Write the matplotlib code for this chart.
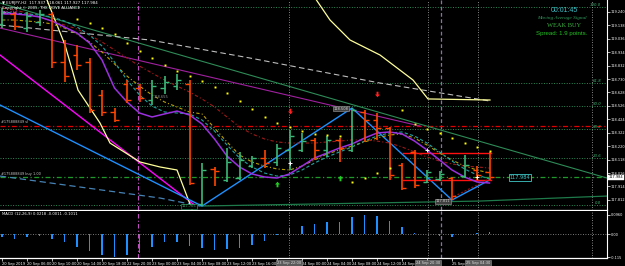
import numpy as np
import matplotlib
matplotlib.use("Agg")
import matplotlib.pyplot as plt
import matplotlib.transforms as mtransforms

# ---------------- data (EURJPY, 2-hour bars) ----------------
bar_open = [119.149, 119.225, 119.118, 119.164, 119.225, 118.860, 118.913, 118.860, 118.609, 118.480,
            118.693, 118.662, 118.571, 118.662, 118.677, 118.693, 117.780, 118.046, 117.963, 117.978,
            118.069, 118.130, 118.100, 118.191, 118.191, 118.267, 118.191, 118.267, 118.191, 118.480,
            118.419, 118.358, 118.077, 118.176, 117.948, 117.971, 117.978, 117.993, 118.039, 118.024]
bar_high = [119.270, 119.240, 119.240, 119.255, 119.240, 119.027, 118.989, 118.890, 118.647, 118.510,
            118.723, 118.693, 118.723, 118.753, 118.769, 118.723, 118.092, 118.062, 118.206, 118.176,
            118.145, 118.191, 118.237, 118.343, 118.320, 118.282, 118.297, 118.282, 118.510, 118.495,
            118.472, 118.366, 118.092, 118.191, 118.039, 118.031, 117.986, 118.153, 118.069, 118.176]
bar_low = [119.118, 119.103, 119.088, 119.133, 118.814, 118.708, 118.799, 118.472, 118.449, 118.404,
           118.548, 118.556, 118.533, 118.617, 118.647, 117.925, 117.765, 117.917, 117.948, 117.963,
           118.054, 118.054, 118.069, 118.039, 118.176, 118.115, 118.138, 118.100, 118.176, 118.252,
           118.267, 117.963, 117.887, 117.902, 117.940, 117.955, 117.811, 117.978, 117.963, 117.963]
bar_close = [119.240, 119.133, 119.209, 119.225, 118.860, 118.753, 118.837, 118.495, 118.480, 118.419,
             118.571, 118.586, 118.677, 118.708, 118.723, 117.940, 118.039, 118.028, 118.100, 118.115,
             118.130, 118.092, 118.206, 118.297, 118.259, 118.191, 118.267, 118.206, 118.495, 118.419,
             118.358, 118.001, 117.902, 117.925, 118.024, 118.009, 117.841, 118.077, 118.001, 117.984]

nan = float("nan")
psar = [nan, nan, nan, nan, nan, nan, 119.187, 119.156, 119.118, 119.073,
        119.004, 118.943, 118.890, 118.837, 118.791, 118.753, 118.715, 118.670, 118.624, 118.563,
        118.503, 118.442, 118.396, 118.366, 118.335, 118.313, 118.305, 118.297, 117.948, 117.978,
        118.016, 118.054, 118.495, 118.389, 118.351, 118.320, 118.282, 118.244, 118.214, 118.183]

ma_purple = [119.225, 119.225, 119.217, 119.202, 119.171, 119.126, 119.080, 119.004, 118.875, 118.662,
             118.556, 118.472, 118.442, 118.465, 118.487, 118.457, 118.389, 118.275, 118.145, 118.062,
             118.009, 117.986, 117.978, 118.009, 118.069, 118.130, 118.168, 118.206, 118.237, 118.282,
             118.320, 118.328, 118.313, 118.259, 118.191, 118.115, 118.039, 117.986, 117.948, 117.940]
ma_teal = [119.240, 119.232, 119.225, 119.217, 119.202, 119.171, 119.126, 119.065, 118.981, 118.860,
           118.723, 118.609, 118.525, 118.480, 118.472, 118.465, 118.419, 118.335, 118.229, 118.130,
           118.062, 118.016, 117.993, 118.001, 118.039, 118.092, 118.138, 118.176, 118.214, 118.259,
           118.297, 118.320, 118.328, 118.297, 118.244, 118.176, 118.107, 118.047, 118.001, 117.971]
ma_olive = [119.179, 119.179, 119.171, 119.164, 119.149, 119.118, 119.073, 119.012, 118.936, 118.845,
            118.753, 118.677, 118.609, 118.556, 118.518, 118.480, 118.465, 118.358, 118.252, 118.153,
            118.100, 118.069, 118.047, 118.039, 118.069, 118.115, 118.161, 118.191, 118.221, 118.252,
            118.282, 118.305, 118.313, 118.282, 118.229, 118.168, 118.115, 118.069, 118.039, 118.016]
ma_darkred = [119.270, 119.255, 119.232, 119.202, 119.171, 119.141, 119.111, 119.065, 119.012, 118.951,
              118.890, 118.829, 118.776, 118.723, 118.677, 118.632, 118.579, 118.518, 118.442, 118.366,
              118.313, 118.275, 118.252, 118.244, 118.244, 118.244, 118.252, 118.259, 118.267, 118.267,
              118.259, 118.244, 118.214, 118.176, 118.138, 118.107, 118.085, 118.069, 118.062, 118.054]

macd_hist = [-0.016, -0.025, -0.016, -0.011, -0.025, -0.036, -0.062, -0.085, -0.103, -0.114,
             -0.103, -0.095, -0.065, -0.038, -0.040, -0.057, -0.069, -0.078, -0.074, -0.069,
             -0.054, -0.034, -0.005, 0.029, 0.042, 0.051, 0.059, 0.061, 0.083, 0.093,
             0.088, 0.064, 0.034, 0.007, 0.002, -0.007, -0.012, 0.001, 0.007, 0.012]

price_ticks = [119.240, 119.138, 119.036, 118.934, 118.832, 118.730, 118.628, 118.526,
               118.424, 118.322, 118.220, 118.118, 118.016, 117.914, 117.812]
price_tick_labels = ["119.240", "119.138", "119.036", "118.934", "118.832", "118.730", "118.628",
                     "118.526", "118.424", "118.322", "118.220", "118.118", "118.016", "117.914",
                     "117.812"]
macd_ticks = [0.096, 0.0, -0.115]
macd_tick_labels = ["0.0960", "0.00", "-0.115"]

# labels hidden under the vertical-line time boxes are left blank
time_labels = ["20 Sep 2019", "20 Sep 06:00", "20 Sep 10:00", "20 Sep 14:00", "20 Sep 18:00",
               "22 Sep 20:00", "23 Sep 00:00", "23 Sep 04:00", "23 Sep 08:00", "23 Sep 12:00",
               "23 Sep 16:00", "", "24 Sep 00:00", "24 Sep 04:00", "24 Sep 08:00",
               "24 Sep 12:00", "24 Sep 16:00", "", "25 Sep 00:00"]
box_time_pos = [22.96, 34.08, 38.08]
box_time_labels = ["23 Sep 22:00", "24 Sep 20:30", "25 Sep 04:30"]

fib_levels = [119.278, 118.700, 118.525, 118.351, 118.130, 117.773]
fib_labels = ["100.0", "61.8", "50.0", "38.2", "23.6", "0.0"]
sl_level = 118.373
buy_level = 117.984

# trend objects: (bar index list, price list)
tl_green = ([-0.16, 48.4], [119.308, 117.978])
tl_violet = ([-0.16, 33.44], [119.118, 118.373])
tl_grey = ([-0.16, 11.84, 19.84, 30.24, 39.04], [119.141, 119.027, 118.890, 118.700, 118.563])
zigzag = ([-0.16, 16.0, 28.0, 36.0, 39.0], [118.533, 117.765, 118.510, 117.811, 117.963])
tl_magenta = ([-0.16, 15.6], [118.913, 117.758])
yellow_a = ([3.44, 5.04, 6.08, 7.84, 8.64, 11.04, 12.64, 14.0, 15.28],
            [119.369, 118.989, 118.647, 118.396, 118.244, 118.100, 118.062, 118.039, 117.720])
yellow_b = ([24.88, 26.24, 27.84, 30.24, 32.88, 34.08, 39.04],
            [119.369, 119.179, 119.027, 118.913, 118.723, 118.579, 118.571])
tl_steel = ([-0.16, 12.64, 15.84], [117.993, 117.826, 117.765])
tl_bottom = ([15.84, 38.24, 48.4], [117.765, 117.803, 117.841])
red_box_top = ([32.08, 39.12], [118.168, 118.168])
red_box_bot = ([32.08, 39.12], [117.963, 117.963])
red_diag = ([35.6, 39.12], [117.811, 117.978])

vlines_dotted = [22.96, 34.08, 38.08, 47.2]
vline_magenta = 10.88
vline_purple = 35.12

up_arrows = ([22, 27], [117.933, 117.978])
down_arrows = ([23, 30], [118.487, 118.617])
crosses = ([23, 34, 38], [118.092, 118.191, 117.986])

# ---------------- figure ----------------
W, H = 625, 266
fig = plt.figure(figsize=(W / 100, H / 100), dpi=100, facecolor="black")
plt.rcParams["font.family"] = ["DejaVu Sans"]

ax = fig.add_axes([0, 1 - 210 / H, 607 / W, 210 / H])
axm = fig.add_axes([0, 1 - 258 / H, 607 / W, 47 / H])
for a in (ax, axm):
    a.set_facecolor("black")
    a.set_xlim(-0.16, 48.4)
    for s in ("top", "left"):
        a.spines[s].set_visible(False)
    a.spines["right"].set_color("white")
    a.spines["right"].set_linewidth(0.8)
    a.spines["bottom"].set_color("white")
    a.spines["bottom"].set_linewidth(0.9)
ax.set_ylim(117.735, 119.331)
axm.set_ylim(-0.1176, 0.1150)

idx = np.arange(len(bar_open))
o = np.array(bar_open); h = np.array(bar_high); l = np.array(bar_low); c = np.array(bar_close)

# fib / level lines
for lv, lb in zip(fib_levels, fib_labels):
    ax.axhline(lv, color="#2e8b57", lw=0.7, ls=(0, (1, 1.6)), zorder=1)
    ax.text(47.95, lv, lb, color="#3cb371", fontsize=2.8, style="italic", ha="right", va="bottom", zorder=6)
ax.axhline(sl_level, color="#e00000", lw=0.9, ls=(0, (4, 2, 1, 2)), zorder=2)
ax.axhline(buy_level, color="#1f9a2a", lw=0.9, ls=(0, (4, 2, 1, 2)), zorder=2)

# vertical lines
for a in (ax, axm):
    for v in vlines_dotted:
        a.axvline(v, color="#b0b0b0", lw=0.6, ls=(0, (1, 2)), zorder=1)
    a.axvline(vline_magenta, color="#c050c0", lw=0.8, ls=(0, (4, 2, 1, 2)), zorder=1)
    a.axvline(vline_purple, color="#8a70b0", lw=0.9, ls=(0, (3, 2)), zorder=1)

# trendlines
ax.plot(*tl_green, color="#2e8b57", lw=0.8, zorder=2)
ax.plot(*tl_violet, color="#a020a0", lw=0.8, zorder=2)
ax.plot(*tl_grey, color="#bdbdbd", lw=0.8, ls=(0, (5, 3)), zorder=2)
ax.plot(*tl_steel, color="#4682b4", lw=0.9, ls=(0, (5, 3)), zorder=2)
ax.plot(*tl_bottom, color="#1e7a4a", lw=0.9, zorder=2)
ax.plot(*tl_magenta, color="#ff00ff", lw=1.0, zorder=3)
ax.plot(*yellow_a, color="#ffff99", lw=0.9, zorder=3)
ax.plot(*yellow_b, color="#ffff99", lw=0.9, zorder=3)
ax.plot(*zigzag, color="#1e90ff", lw=1.0, zorder=3)
ax.plot(*red_box_top, color="#ff1010", lw=1.0, zorder=3)
ax.plot(*red_box_bot, color="#ff1010", lw=1.0, zorder=3)
ax.plot(*red_diag, color="#a01010", lw=0.8, ls=(0, (2, 1.5)), zorder=3)

# moving averages
ax.plot(idx, ma_darkred, color="#a01818", lw=0.8, ls=(0, (3, 2, 1, 2)), zorder=3)
ax.plot(idx, ma_olive, color="#b8a000", lw=0.8, ls=(0, (3, 2, 1, 2)), zorder=3)
ax.plot(idx, ma_teal, color="#20a0a0", lw=0.8, ls=(0, (3, 2)), zorder=3)
ax.plot(idx, ma_purple, color="#9b30e0", lw=1.1, zorder=4)

# OHLC bars
bull = c >= o
cols = np.where(bull, "#3cb878", "#ff4500")
ax.vlines(idx, l, h, colors=cols, lw=1.2, zorder=5)
ax.hlines(o, idx - 0.34, idx, colors=cols, lw=1.0, zorder=5)
ax.hlines(c, idx, idx + 0.34, colors=cols, lw=1.0, zorder=5)

# parabolic SAR dots
ax.plot(idx, psar, ls="none", marker="s", ms=1.4, color="#ffff00", mec="none", zorder=6)

# arrows / crosses
arrow_up = [(0, 1), (0.9, 0.0), (0.35, 0.0), (0.35, -1), (-0.35, -1), (-0.35, 0.0), (-0.9, 0.0), (0, 1)]
arrow_dn = [(x, -y) for x, y in arrow_up]
ax.plot(*up_arrows, ls="none", marker=arrow_up, ms=4, color="#22cc22", mec="none", zorder=7)
ax.plot(*down_arrows, ls="none", marker=arrow_dn, ms=4, color="#ff2020", mec="none", zorder=7)
ax.plot(*crosses, ls="none", marker="+", ms=3, mew=0.7, color="white", zorder=7)

# object labels
ax.text(27.1, 118.503, "118.508", fontsize=2.6, color="#d0d0d0", ha="center", va="center", zorder=8,
        bbox=dict(boxstyle="square,pad=0.15", fc="#404040", ec="#a0a0a0", lw=0.4))
ax.text(35.3, 117.803, "117.811", fontsize=2.6, color="#d0d0d0", ha="center", va="center", zorder=8,
        bbox=dict(boxstyle="square,pad=0.15", fc="#404040", ec="#a0a0a0", lw=0.4))
ax.text(14.95, 117.765, "117.765", fontsize=2.6, color="#3cb371", ha="center", va="center", zorder=8,
        bbox=dict(boxstyle="square,pad=0.15", fc="black", ec="#2e8b57", lw=0.5))
ax.text(12.1, 118.594, "118.655", fontsize=2.6, color="#909090", ha="left", va="center", zorder=8)
ax.text(41.44, buy_level, "117.984", fontsize=3.6, color="#40c8c8", ha="center", va="center", zorder=8,
        bbox=dict(boxstyle="square,pad=0.2", fc="black", ec="#40c8c8", lw=0.6))
ax.text(-0.05, sl_level + 0.012, "#175888849 sl", fontsize=2.5, color="#c8c8c8", ha="left", va="bottom", zorder=8)
ax.text(-0.05, buy_level + 0.012, "#175888849 buy 1.00", fontsize=2.5, color="#c8c8c8", ha="left", va="bottom", zorder=8)

# right price axis
ax.yaxis.tick_right()
ax.set_yticks(price_ticks)
ax.set_yticklabels(price_tick_labels)
ax.tick_params(axis="y", colors="white", labelsize=2.5, length=2, width=0.5, pad=0.8)
ax.set_xticks([])
trans = mtransforms.blended_transform_factory(ax.transAxes, ax.transData)
ax.text(1.003, buy_level, "117.984", transform=trans, fontsize=2.5, color="black", ha="left", va="center",
        zorder=10, clip_on=False, bbox=dict(boxstyle="square,pad=0.12", fc="white", ec="white", lw=0.3))

# MACD panel
axm.bar(idx, macd_hist, width=0.14, color="#1e90ff", zorder=3)
axm.axhline(0, color="#a0a0a0", lw=0.6, ls=(0, (1, 2)), zorder=2)
axm.yaxis.tick_right()
axm.set_yticks(macd_ticks)
axm.set_yticklabels(macd_tick_labels)
axm.tick_params(axis="y", colors="white", labelsize=2.5, length=2, width=0.5, pad=0.8)
axm.set_xticks(np.arange(len(time_labels)) * 2)
axm.set_xticklabels(time_labels)
axm.tick_params(axis="x", colors="white", labelsize=2.6, length=2, width=0.5, pad=0.8)
for lab in axm.get_xticklabels():
    lab.set_horizontalalignment("left")
axm.text(0.003, 0.97, "MACD (12,26,9) 0.0218 -0.0011 -0.1011", transform=axm.transAxes, fontsize=2.7,
         color="white", ha="left", va="top", zorder=8)
transm = mtransforms.blended_transform_factory(axm.transData, axm.transAxes)
for xv, tx in zip(box_time_pos, box_time_labels):
    axm.text(xv, -0.06, tx, transform=transm, fontsize=2.6, color="#e0e0e0", ha="center", va="top",
             zorder=10, clip_on=False, bbox=dict(boxstyle="square,pad=0.25", fc="#5a5a5a", ec="#909090", lw=0.4))

# header texts
fig.text(2 / W, 1 - 3 / H, "\u25bc EURJPY,H2  117.937 118.061 117.927 117.984", fontsize=2.8, color="white",
         ha="left", va="center")
fig.text(2 / W, 1 - 8 / H, "Copyright \u00a9 2005, THE DOVE ALLIANCE", fontsize=2.8, color="white",
         ha="left", va="center")
fig.text(2 / W, 1 - 12.5 / H, "119.240", fontsize=2.8, color="#ff40ff", ha="left", va="center")

fig.text(564 / W, 1 - 10 / H, "00:01:45", fontsize=5, color="#3cc0c8", ha="center", va="center",
         family="Liberation Sans")
fig.text(562 / W, 1 - 17.5 / H, "Moving Average Signal", fontsize=3.8, color="#2e9e5e", ha="center",
         va="center", family="Liberation Serif", style="italic")
fig.text(564 / W, 1 - 25.5 / H, "WEAK BUY", fontsize=4.6, color="#3cb043", ha="center", va="center",
         family="Liberation Serif")
fig.text(562 / W, 1 - 33.5 / H, "Spread: 1.9 points.", fontsize=4.4, color="#22c422", ha="center",
         va="center", family="Liberation Sans")

fig.savefig("out.png", dpi=100, facecolor="black")
